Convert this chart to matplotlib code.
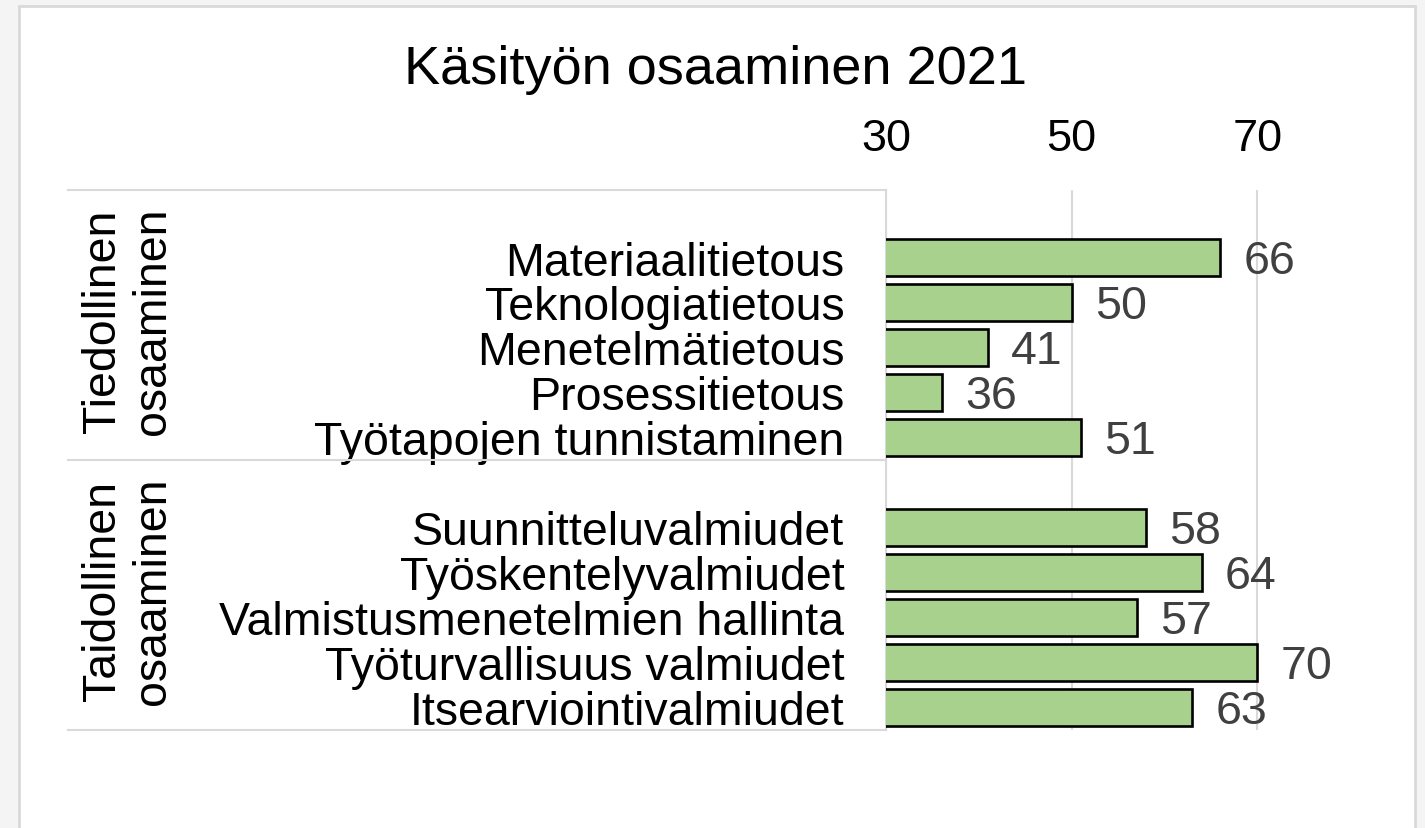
import matplotlib.pyplot as plt
from matplotlib.patches import Rectangle
from matplotlib.lines import Line2D

plt.rcParams["font.family"] = ["Liberation Sans", "DejaVu Sans"]

# data
group_names = ["Tiedollinen\nosaaminen", "Taidollinen\nosaaminen"]
categories_1 = ["Materiaalitietous", "Teknologiatietous", "Menetelmätietous",
                "Prosessitietous", "Työtapojen tunnistaminen"]
values_1 = [66, 50, 41, 36, 51]
categories_2 = ["Suunnitteluvalmiudet", "Työskentelyvalmiudet",
                "Valmistusmenetelmien hallinta", "Työturvallisuus valmiudet",
                "Itsearviointivalmiudet"]
values_2 = [58, 64, 57, 70, 63]
x_ticks = [30, 50, 70]
title = "Käsityön osaaminen 2021"

W, H = 1425, 829
fig = plt.figure(figsize=(W / 100, H / 100), dpi=100, facecolor="#f4f4f4")

# white card with light border
fig.add_artist(Rectangle((19 / W, -0.1), (1415 - 19) / W, 1.1 - 7 / H,
                         transform=fig.transFigure, facecolor="white",
                         edgecolor="#d9d9d9", linewidth=2, zorder=0))

x0, x1 = 886, 1350
ytop, ybot = 191, 731
ax = fig.add_axes([x0 / W, 1 - ybot / H, (x1 - x0) / W, (ybot - ytop) / H])
ax.set_facecolor("none")

# slot 0 and 6 are empty group headers
pos_1 = list(range(1, 6))
pos_2 = list(range(7, 12))
positions = pos_1 + pos_2
values = values_1 + values_2
labels = categories_1 + categories_2

ax.barh(positions, values, left=0, height=0.84, color="#a9d18e",
        edgecolor="black", linewidth=1.9, zorder=3)
ax.set_xlim(30, 80)
ax.set_ylim(11.5, -0.5)

ax.set_xticks(x_ticks)
ax.xaxis.tick_top()
ax.tick_params(axis="x", length=0, pad=22, labelsize=32.5)
ax.set_yticks(positions)
ax.set_yticklabels(labels, fontsize=33.5)
ax.tick_params(axis="y", length=0, pad=30)
ax.grid(axis="x", color="#d9d9d9", linewidth=1.5, zorder=0)
ax.set_axisbelow(True)
for s in ["top", "right", "bottom"]:
    ax.spines[s].set_visible(False)
ax.spines["left"].set_color("#d9d9d9")
ax.spines["left"].set_linewidth(1.5)

for p, v in zip(positions, values):
    ax.text(v + 2.5, p + 0.07, str(v), va="center", ha="left",
            fontsize=33.5, color="#404040")

# group separators in the category area
fx = (68 - x0) / (x1 - x0)
for yb in [-0.5, 5.5, 11.5]:
    ax.add_line(Line2D([fx, 0], [yb, yb], transform=ax.get_yaxis_transform(),
                       color="#d9d9d9", linewidth=1.5, clip_on=False))

gx = (128 - x0) / (x1 - x0)
for name, yc in zip(group_names, [2.5, 8.5]):
    ax.text(gx, yc - 0.1, name, rotation=90, ha="center", va="center",
            fontsize=33.5, linespacing=1.15, multialignment="center",
            transform=ax.get_yaxis_transform())

fig.text(715 / W, 1 - 70 / H, title, ha="center", va="center", fontsize=39)

fig.savefig("out.png", dpi=100, facecolor=fig.get_facecolor())
